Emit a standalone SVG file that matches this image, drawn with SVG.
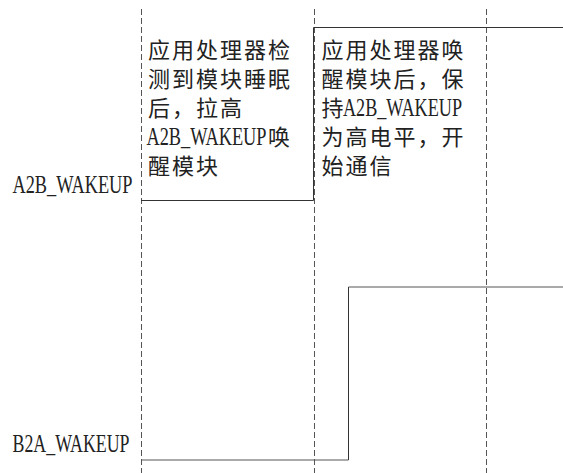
<svg xmlns="http://www.w3.org/2000/svg" width="563" height="473" viewBox="0 0 563 473">
<style>
.grid{stroke:#555;stroke-width:1;stroke-dasharray:6 3;fill:none}
.sig{stroke:#333;stroke-width:1;fill:none}
.sigg{stroke:#555;stroke-width:1;fill:none}
.cn{font-family:"Noto Sans CJK SC","Noto Sans CJK JP",sans-serif;font-size:22px;letter-spacing:2px;fill:#222}
.lat{font-family:"Liberation Serif",serif;font-size:26px;fill:#222;letter-spacing:0}
.nls{letter-spacing:0}
</style>
<rect width="563" height="473" fill="#fff"/>
<g id="gridlines">
<line class="grid" x1="141.5" y1="9" x2="141.5" y2="473"/>
<line class="grid" x1="314.5" y1="9" x2="314.5" y2="473"/>
<line class="grid" x1="486.5" y1="9" x2="486.5" y2="473"/>
</g>
<g id="connectors">
<polyline id="a2b-signal" class="sig" points="141,200.5 313.5,200.5 313.5,27.5 563,27.5"/>
<polyline id="b2a-low" class="sigg" points="141,460 348.5,460"/>
<line id="b2a-edge" class="sig" x1="348.5" y1="460" x2="348.5" y2="287"/>
<line id="b2a-high" class="sigg" x1="348.5" y1="287" x2="563" y2="287"/>
</g>
<g id="label-a2b">
<text class="lat" x="12.5" y="193" textLength="120" lengthAdjust="spacingAndGlyphs">A2B_WAKEUP</text>
</g>
<g id="label-b2a">
<text class="lat" x="12.5" y="452" textLength="117" lengthAdjust="spacingAndGlyphs">B2A_WAKEUP</text>
</g>
<g id="note1">
<text class="cn"><tspan x="148" y="58">应用处理器检</tspan><tspan x="148" y="87">测到模块睡眠</tspan><tspan x="148" y="116">后，拉高</tspan><tspan class="lat" x="146.5" y="145" textLength="120" lengthAdjust="spacingAndGlyphs">A2B_WAKEUP</tspan><tspan x="268" y="145">唤</tspan><tspan x="148" y="174">醒模块</tspan></text>
</g>
<g id="note2">
<text class="cn"><tspan x="321.5" y="58">应用处理器唤</tspan><tspan x="321.5" y="87">醒模块后，保</tspan><tspan class="nls" x="321.5" y="116">持</tspan><tspan class="lat" x="343" y="116" textLength="119" lengthAdjust="spacingAndGlyphs">A2B_WAKEUP</tspan><tspan x="321.5" y="145">为高电平，开</tspan><tspan x="321.5" y="174">始通信</tspan></text>
</g>
</svg>
